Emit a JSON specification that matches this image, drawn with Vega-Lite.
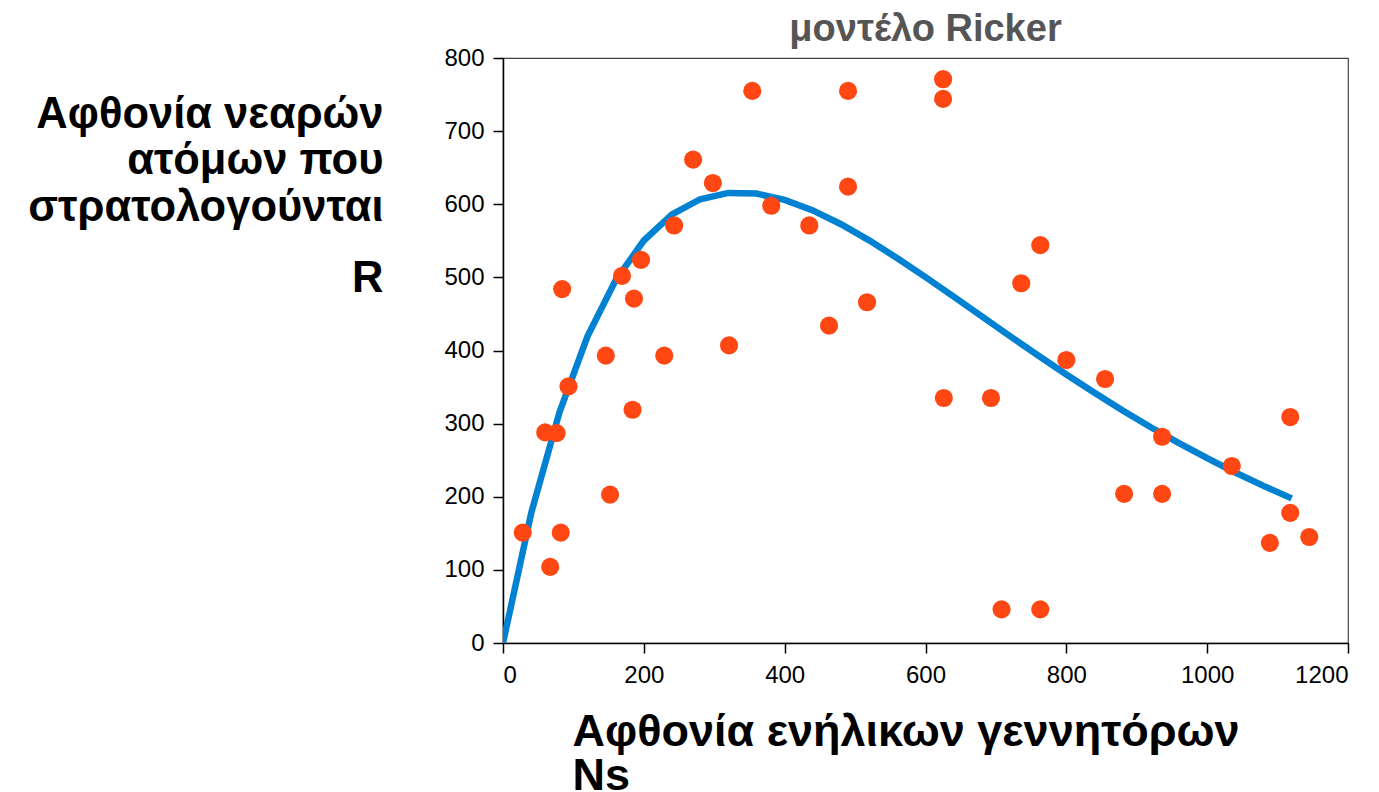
{
  "$schema": "https://vega.github.io/schema/vega-lite/v6.json",
  "width": 845,
  "height": 585,
  "autosize": "none",
  "padding": {"left": 503, "top": 58, "right": 31, "bottom": 149},
  "background": "white",
  "config": {
    "font": "Liberation Sans",
    "view": {"stroke": "#444", "strokeWidth": 1.2},
    "axis": {
      "grid": false,
      "domainColor": "#000",
      "domainWidth": 1.5,
      "tickColor": "#000",
      "tickWidth": 1.5,
      "tickSize": 10,
      "labelFont": "Liberation Sans",
      "labelFontSize": 24,
      "labelColor": "#000",
      "titleFont": "Liberation Sans",
      "titleFontWeight": "bold",
      "titleFontSize": 43.5,
      "titleColor": "#000"
    }
  },
  "title": {
    "text": "μοντέλο Ricker",
    "font": "Liberation Sans",
    "fontSize": 38,
    "fontWeight": "bold",
    "color": "#555555",
    "anchor": "middle",
    "baseline": "alphabetic",
    "offset": 6,
    "dy": 39
  },
  "datasets": {
    "obs": [
      {"N": 28, "R": 151}, {"N": 60, "R": 288}, {"N": 76, "R": 287}, {"N": 67, "R": 104},
      {"N": 82, "R": 151}, {"N": 84, "R": 484}, {"N": 93, "R": 351}, {"N": 146, "R": 393},
      {"N": 152, "R": 203}, {"N": 169, "R": 502}, {"N": 186, "R": 471}, {"N": 184, "R": 319},
      {"N": 196, "R": 524}, {"N": 229, "R": 393}, {"N": 243, "R": 571}, {"N": 270, "R": 661},
      {"N": 298, "R": 629}, {"N": 321, "R": 407}, {"N": 354, "R": 755}, {"N": 381, "R": 598},
      {"N": 435, "R": 571}, {"N": 463, "R": 434}, {"N": 490, "R": 755}, {"N": 490, "R": 624},
      {"N": 517, "R": 466}, {"N": 625, "R": 771}, {"N": 625, "R": 744}, {"N": 626, "R": 335},
      {"N": 693, "R": 335}, {"N": 708, "R": 46}, {"N": 736, "R": 492}, {"N": 763, "R": 46},
      {"N": 763, "R": 544}, {"N": 800, "R": 387}, {"N": 855, "R": 361}, {"N": 882, "R": 204},
      {"N": 936, "R": 282}, {"N": 936, "R": 204}, {"N": 1035, "R": 242}, {"N": 1089, "R": 137},
      {"N": 1118, "R": 309}, {"N": 1118, "R": 178}, {"N": 1145, "R": 145}
    ],
    "model": [
      {"N": 0, "R": 0}, {"N": 40, "R": 177.5}, {"N": 80, "R": 315.0}, {"N": 120, "R": 419.4},
      {"N": 160, "R": 496.2}, {"N": 200, "R": 550.4}, {"N": 240, "R": 586.2}, {"N": 280, "R": 606.9},
      {"N": 320, "R": 615.5}, {"N": 360, "R": 614.6}, {"N": 400, "R": 606.0}, {"N": 440, "R": 591.6},
      {"N": 480, "R": 572.7}, {"N": 520, "R": 550.6}, {"N": 560, "R": 526.2}, {"N": 600, "R": 500.4},
      {"N": 640, "R": 473.6}, {"N": 680, "R": 446.6}, {"N": 720, "R": 419.6}, {"N": 760, "R": 393.1},
      {"N": 800, "R": 367.2}, {"N": 840, "R": 342.2}, {"N": 880, "R": 318.1}, {"N": 920, "R": 295.1},
      {"N": 960, "R": 273.3}, {"N": 1000, "R": 252.7}, {"N": 1040, "R": 233.2}, {"N": 1080, "R": 214.9},
      {"N": 1120, "R": 197.8}
    ]
  },
  "layer": [
    {
      "data": {"name": "model"},
      "mark": {"type": "line", "color": "#0081D2", "strokeWidth": 6.5, "clip": true},
      "encoding": {
        "x": {
          "field": "N", "type": "quantitative",
          "scale": {"domain": [0, 1200], "nice": false, "zero": true},
          "axis": {
            "values": [0, 200, 400, 600, 800, 1000, 1200],
            "format": "d",
            "labelPadding": 10,
            "title": ["Αφθονία ενήλικων γεννητόρων", "Ns"],
            "titleFontSize": 45,
            "titleAlign": "left",
            "titleAnchor": "start",
            "titleBaseline": "alphabetic",
            "titleX": 69,
            "titleY": 102,
            "titleLineHeight": 44
          }
        },
        "y": {
          "field": "R", "type": "quantitative",
          "scale": {"domain": [0, 800], "nice": false},
          "axis": {
            "values": [0, 100, 200, 300, 400, 500, 600, 700, 800],
            "format": "d",
            "labelPadding": 9,
            "title": ["Αφθονία νεαρών", "ατόμων που", "στρατολογούνται"],
            "titleAngle": 0,
            "titleAlign": "right",
            "titleBaseline": "alphabetic",
            "titleX": -120,
            "titleY": 69,
            "titleLineHeight": 46.5
          }
        }
      }
    },
    {
      "data": {"name": "obs"},
      "mark": {"type": "point", "filled": true, "shape": "circle", "size": 330, "color": "#FF4713", "opacity": 1},
      "encoding": {
        "x": {"field": "N", "type": "quantitative"},
        "y": {
          "field": "R", "type": "quantitative",
          "axis": {
            "orient": "left",
            "labels": false,
            "ticks": false,
            "domain": false,
            "title": "R",
            "titleAngle": 0,
            "titleAlign": "right",
            "titleBaseline": "alphabetic",
            "titleX": -120,
            "titleY": 233
          }
        }
      }
    }
  ],
  "resolve": {"axis": {"y": "independent"}}
}
